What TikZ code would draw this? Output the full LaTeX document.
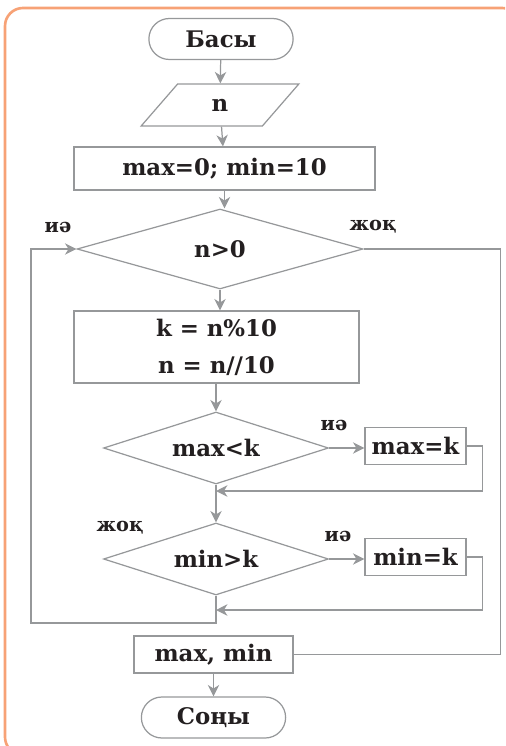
\documentclass[tikz,border=0pt]{standalone}
\usepackage{fontspec}
\setmainfont{DejaVu Serif}
\usetikzlibrary{shapes.geometric,shapes.misc,arrows.meta,positioning}
\definecolor{linegray}{RGB}{150,152,154}
\definecolor{frameorange}{RGB}{247,162,118}
\definecolor{textdark}{RGB}{35,31,32}

\begin{document}
\begin{tikzpicture}[
  x=0.02cm, y=-0.02cm,
  every node/.style={font=\fontsize{13}{16}\selectfont\bfseries, text=textdark},
  term/.style={draw=linegray, rounded rectangle, minimum width=3.12cm, minimum height=0.82cm},
  io/.style={draw=linegray, trapezium, trapezium left angle=63, trapezium right angle=117,
    trapezium stretches=true, minimum width=3.16cm, minimum height=0.84cm},
  proc/.style={draw=linegray, rectangle, align=center},
  dec/.style={draw=linegray, diamond, aspect=3, inner sep=0pt},
  lbl/.style={font=\fontsize{11}{13}\selectfont\bfseries},
  flow/.style={draw=linegray, ->},
  >={Stealth[length=6.5pt,width=6.5pt,inset=2pt]}, line width=0.7pt
]
  \useasboundingbox (0,0) rectangle (505,746);
  \clip (0,0) rectangle (505,746);
  % frame
  \draw[frameorange, line width=1.5pt, rounded corners=0.36cm] (5,8) rectangle (520,755);

  % main column
  \node[term] (start) at (221,39) {Басы};
  \node[io] (inp) at (220,105) {n};
  \node[proc, minimum width=6.02cm, minimum height=0.86cm] (init) at (224.5,168.5) {max=0; min=10};
  \node[dec, minimum width=5.72cm, minimum height=1.6cm] (cond) at (220,249) {n>0};
  \node[proc, minimum width=5.7cm, minimum height=1.44cm] (body) at (216.5,347) {k = n\%10\\[0.18cm]n = n//10};
  \node[dec, minimum width=4.5cm, minimum height=1.44cm] (cmax) at (216,448) {max<k};
  \node[dec, minimum width=4.5cm, minimum height=1.44cm] (cmin) at (216,559) {min>k};
  \node[proc, minimum width=3.18cm, minimum height=0.74cm] (out) at (213.5,654.5) {max, min};
  \node[term] (stop) at (213.5,717.5) {Соңы};

  % side boxes
  \node[proc, minimum width=2.02cm, minimum height=0.74cm] (setmax) at (415.5,446) {max=k};
  \node[proc, minimum width=2.02cm, minimum height=0.74cm] (setmin) at (415.5,557) {min=k};

  % labels
  \node[lbl] (yes1) at (58,227) {иә};
  \node[lbl] (no1) at (373,227) {жоқ};
  \node[lbl] (yes2) at (334,425) {иә};
  \node[lbl] (no2) at (120,528) {жоқ};
  \node[lbl] (yes3) at (338,536) {иә};

  \coordinate (j1) at (216,491);
  \coordinate (j2) at (216,610);
  \coordinate (back) at (31,623);

  \draw[flow] (start) -- (inp);
  \draw[flow] (inp) -- (init);
  \draw[flow] (init.south) -- (init.south |- cond.north);
  \draw[flow] (cond.south) -- (cond.south |- body.north);
  \draw[flow] (body.south -| cmax.north) -- (cmax.north);
  \draw[flow] (cmax.east) -- (cmax.east -| setmax.west);
  \draw[flow] (setmax.east) -- ++(16,0) |- (j1);
  \draw[flow] (cmax.south) -- (cmin.north);
  \draw[flow] (cmin.east) -- (cmin.east -| setmin.west);
  \draw[flow] (setmin.east) -- ++(16,0) |- (j2);
  \draw[flow] (cmin.south) |- (back) |- (cond.west);
  \draw[linegray] (cond.east) -- ++(137,0) |- (out.east);
  \draw[flow] (out.south -| stop.north) -- (stop.north);
\end{tikzpicture}
\end{document}
